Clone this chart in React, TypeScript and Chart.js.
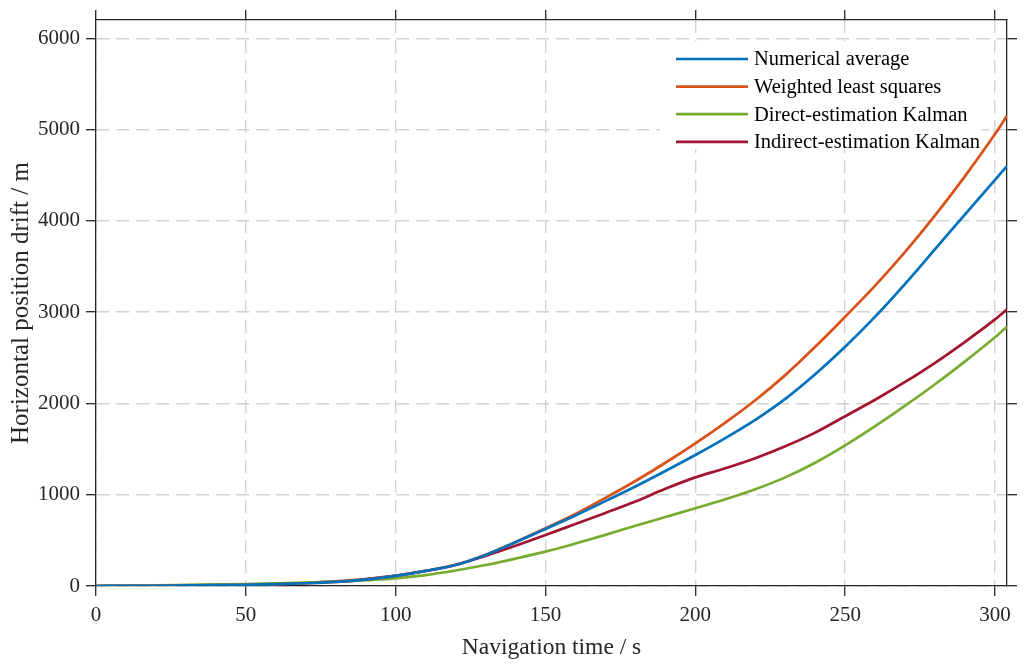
import React, { useEffect, useRef } from "react";
import { Chart, registerables } from "chart.js";

Chart.register(...registerables);

const FONT = "'Liberation Serif', 'Times New Roman', Times, serif";
const AXIS_COLOR = "#262626";

const timeS = [0, 10, 20, 30, 40, 50, 60, 70, 80, 90, 100, 110, 120, 130, 140, 150, 160, 170, 180, 190, 200, 210, 220, 230, 240, 250, 260, 270, 280, 290, 300, 304];

const numericalAverage = [0, 1, 3, 6, 9, 13, 20, 30, 45, 70, 110, 165, 230, 340, 480, 625, 772, 930, 1090, 1260, 1435, 1620, 1820, 2050, 2320, 2620, 2950, 3310, 3690, 4070, 4450, 4600];
const weightedLeastSquares = [0, 1, 3, 6, 9, 13, 20, 30, 45, 70, 110, 165, 232, 342, 482, 632, 790, 965, 1150, 1350, 1563, 1790, 2035, 2310, 2620, 2950, 3290, 3660, 4060, 4490, 4950, 5150];
const directKalman = [0, 3, 7, 12, 17, 22, 28, 36, 48, 64, 84, 120, 170, 230, 300, 376, 465, 560, 660, 755, 851, 950, 1060, 1190, 1350, 1540, 1750, 1975, 2210, 2460, 2724, 2840];
const indirectKalman = [0, 2, 4, 7, 11, 16, 23, 33, 50, 75, 113, 165, 230, 330, 440, 558, 680, 800, 925, 1065, 1190, 1290, 1400, 1530, 1680, 1860, 2040, 2235, 2445, 2675, 2920, 3030];

const seriesLabels = ["Numerical average", "Weighted least squares", "Direct-estimation Kalman", "Indirect-estimation Kalman"];
const seriesColors = ["#0072BD", "#D95319", "#77AC30", "#A2142F"];
const seriesValues = [numericalAverage, weightedLeastSquares, directKalman, indirectKalman];

const xTitle = "Navigation time / s";
const yTitle = "Horizontal position drift / m";
const xMin = 0, xMax = 304;
const yMin = 0, yMax = 6200;
const xTickValues = [0, 50, 100, 150, 200, 250, 300];
const yTickValues = [0, 1000, 2000, 3000, 4000, 5000, 6000];

const insideLegend = {
  id: "insideLegend",
  afterDatasetsDraw(chart: any) {
    const { ctx, chartArea } = chart;
    const fontSize = 20.5;
    ctx.save();
    ctx.font = `${fontSize}px ${FONT}`;
    const labels = chart.data.datasets.map((d: any) => d.label as string);
    const maxW = Math.max(...labels.map((l: string) => ctx.measureText(l).width));
    const lineLen = 72, padL = 16, gap = 6, padR = 2, rowH = 27.6;
    const boxW = padL + lineLen + gap + maxW + padR;
    const right = chartArea.right - 25;
    const left = right - boxW;
    const top = chartArea.top + 21;
    const boxH = rowH * labels.length - 2;
    ctx.fillStyle = "#ffffff";
    ctx.fillRect(left, top, boxW, boxH);
    chart.data.datasets.forEach((d: any, i: number) => {
      const y = top + 18 + i * rowH;
      ctx.strokeStyle = d.borderColor;
      ctx.lineWidth = 2.7;
      ctx.beginPath();
      ctx.moveTo(left + padL, y);
      ctx.lineTo(left + padL + lineLen, y);
      ctx.stroke();
      ctx.fillStyle = "#000000";
      ctx.textBaseline = "middle";
      ctx.textAlign = "left";
      ctx.fillText(d.label, left + padL + lineLen + gap, y + 1);
    });
    ctx.restore();
  },
};

export default function App() {
  const ref = useRef<HTMLCanvasElement | null>(null);

  useEffect(() => {
    if (!ref.current) return;
    const datasets = seriesLabels.map((label, i) => ({
      label,
      data: timeS.map((t, j) => ({ x: t, y: seriesValues[i][j] })),
      borderColor: seriesColors[i],
      backgroundColor: seriesColors[i],
      borderWidth: 2.7,
      pointRadius: 0,
      cubicInterpolationMode: "monotone" as const,
      fill: false,
      xAxisID: "x",
      yAxisID: "y",
    }));
    const tickFont = { family: FONT, size: 21 };
    const grid = {
      color: "#d2d2d2",
      lineWidth: 1.4,
      tickLength: 10,
      tickColor: AXIS_COLOR,
      tickWidth: 1.3,
    };
    const border = { color: AXIS_COLOR, width: 1.3, dash: [13, 7] };
    const setX = (s: any) => { s.ticks = xTickValues.map((v) => ({ value: v })); };
    const setY = (s: any) => { s.ticks = yTickValues.map((v) => ({ value: v })); };
    const fmt = (v: any) => String(v);
    const chart = new Chart(ref.current, {
      type: "line",
      data: { datasets },
      plugins: [insideLegend],
      options: {
        animation: false,
        responsive: false,
        devicePixelRatio: 1,
        layout: { padding: 0 },
        plugins: { legend: { display: false }, tooltip: { enabled: false }, title: { display: false } },
        scales: {
          x: {
            type: "linear",
            position: "bottom",
            min: xMin,
            max: xMax,
            afterBuildTicks: setX,
            ticks: { font: tickFont, color: AXIS_COLOR, padding: 7, maxRotation: 0, autoSkip: false, callback: fmt },
            grid,
            border,
            title: { display: true, text: xTitle, font: { family: FONT, size: 23.5 }, color: AXIS_COLOR, padding: { top: 0, bottom: 9 } },
            afterFit: (s: any) => { s.height = 85; },
          },
          y: {
            type: "linear",
            position: "left",
            min: yMin,
            max: yMax,
            afterBuildTicks: setY,
            ticks: { font: tickFont, color: AXIS_COLOR, padding: 6, autoSkip: false, callback: fmt },
            grid,
            border,
            title: { display: true, text: yTitle, font: { family: FONT, size: 25 }, color: AXIS_COLOR, padding: { top: 6, bottom: 0 } },
            afterFit: (s: any) => { s.width = 96; },
          },
          x2: {
            type: "linear",
            position: "top",
            min: xMin,
            max: xMax,
            afterBuildTicks: setX,
            ticks: { display: false },
            grid: { ...grid, drawOnChartArea: false },
            border,
            afterFit: (s: any) => { s.height = 20; },
          },
          y2: {
            type: "linear",
            position: "right",
            min: yMin,
            max: yMax,
            afterBuildTicks: setY,
            ticks: { display: false },
            grid: { ...grid, drawOnChartArea: false },
            border,
            afterFit: (s: any) => { s.width = 19; },
          },
        },
      },
    } as any);
    return () => chart.destroy();
  }, []);

  return (
    <div style={{ position: "fixed", left: 0, top: 0, width: 1026, height: 671, background: "#fff" }}>
      <canvas ref={ref} width={1026} height={671} style={{ width: "1026px", height: "671px", display: "block" }} />
    </div>
  );
}
